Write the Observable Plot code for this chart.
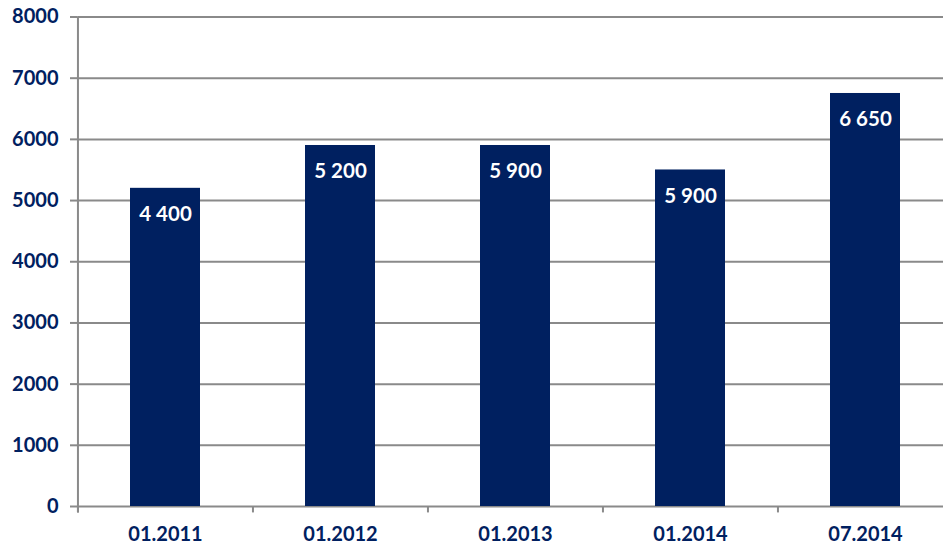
<!DOCTYPE html>
<html>
<head>
<meta charset="utf-8">
<script src="https://cdn.jsdelivr.net/npm/d3@7"></script>
<script src="https://cdn.jsdelivr.net/npm/@observablehq/plot@0.6"></script>
<style>
  html, body { margin: 0; padding: 0; background: #fff; }
  #chart svg { overflow: hidden; }
</style>
</head>
<body>
<div id="chart"></div>
<script>
const categories = ["01.2011", "01.2012", "01.2013", "01.2014", "07.2014"];
const barValues = [5200, 5900, 5900, 5500, 6750];
const barLabels = ["4 400", "5 200", "5 900", "5 900", "6 650"];
const yTicks = [0, 1000, 2000, 3000, 4000, 5000, 6000, 7000, 8000];

const data = categories.map((c, i) => ({cat: c, value: barValues[i], label: barLabels[i]}));

const navy = "#002060";
const grid = "#8a8a8a";
const W = 943, H = 549;
const mL = 77.5, mR = -10;
const band = (W - mR - mL) / categories.length;

const chart = Plot.plot({
  width: W,
  height: H,
  marginLeft: mL,
  marginRight: mR,
  marginTop: 16.5,
  marginBottom: 43,
  style: {fontFamily: "Lato, sans-serif", background: "#fff", overflow: "hidden"},
  x: {domain: categories, padding: 0.6, paddingOuter: 0.3, align: 0.5},
  y: {domain: [0, 8000]},
  marks: [
    Plot.ruleY(yTicks, {stroke: grid, strokeWidth: 2}),
    Plot.axisY({
      ticks: yTicks, tickSize: 7.5, tickPadding: 12, stroke: grid, strokeWidth: 2,
      tickFormat: d => String(d), fill: navy, fontSize: 20, fontWeight: "bold", label: null
    }),
    Plot.barY(data, {x: "cat", y: "value", fill: navy}),
    Plot.ruleX(categories, {x: d => d, dx: -band / 2, y1: -105, y2: 0, stroke: grid, strokeWidth: 2}),
    Plot.ruleX([categories[0]], {x: d => d, dx: -band / 2, y1: -105, y2: 8000, stroke: grid, strokeWidth: 2}),
    Plot.axisX({
      tickSize: 0, tickPadding: 20.5, fill: navy, fontSize: 20, fontWeight: "bold", label: null
    }),
    Plot.text(data, {x: "cat", y: "value", text: "label", dy: 26, fill: "white", fontSize: 20.5, fontWeight: "bold"})
  ]
});
document.getElementById("chart").append(chart);
</script>
</body>
</html>
